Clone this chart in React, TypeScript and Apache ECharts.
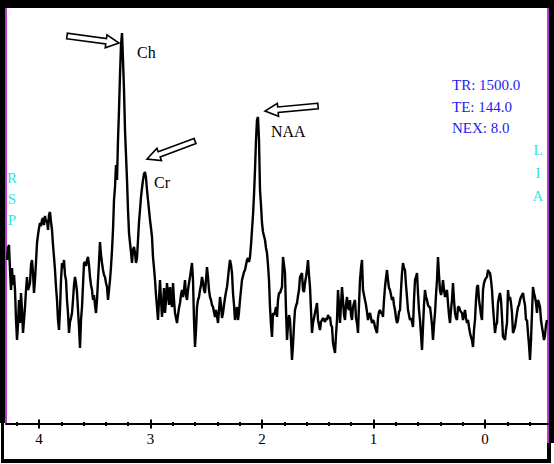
import React, { useEffect, useRef } from "react";
import * as echarts from "echarts";

// Chemical-shift range covered by the sampled spectrum (ppm), uniform sampling
const SHIFT_START_PPM = 4.287;
const SHIFT_END_PPM = -0.556;

// Spectrum intensity (a.u.), in order of decreasing ppm
const SEG_LIPID = [
  174, 186, 189, 164, 144, 166, 149, 159, 144, 114,
  94, 109, 134, 111, 141, 124, 101, 114, 127, 144,
  157, 144, 147, 151, 169, 174, 161, 141, 154, 172,
  191, 199, 206, 211, 208, 214, 216, 209, 218, 212,
  214, 204, 219, 222, 212, 204, 189, 177, 164, 147,
  134, 114, 104, 124, 154, 171, 166, 174, 159, 154,
  134, 121, 101, 112, 116, 121, 134, 149, 157, 151,
  142, 124, 107, 86, 114, 127, 149, 171, 172, 168,
  174, 177, 169, 157, 149, 144, 134, 139, 129, 121,
  134, 154, 172, 192, 179, 171, 164, 159, 157, 151,
  147, 134, 144, 154, 167, 184, 204, 234, 247, 269,
  254, 294, 324, 359, 389, 401, 374, 344, 304, 279,
  254, 224, 201, 191, 182, 171, 184, 187, 181, 171,
  176, 194, 212, 224, 237, 246, 254, 260, 262, 256,
  244, 234, 224, 214,
];
const SEG_NAA = [
  206, 197, 177, 166, 154, 139, 127, 114, 134, 154,
  134, 117, 129, 146, 121, 134, 151, 139, 129, 147,
  134, 127, 151, 134, 121, 116, 111, 119, 126, 131,
  139, 144, 137, 144, 154, 139, 134, 144, 151, 157,
  164, 171, 154, 114, 87, 104, 127, 134, 137, 144,
  149, 157, 152, 144, 141, 154, 167, 157, 144, 137,
  134, 129, 127, 122, 117, 124, 118, 111, 124, 137,
  129, 116, 121, 129, 136, 142, 147, 156, 166, 174,
  169, 161, 141, 129, 114, 122, 127, 114, 122, 134,
  144, 154, 158, 162, 164, 169, 174, 176, 172, 177,
  189, 204, 219, 239, 264, 294, 314, 317, 294, 244,
  229, 211, 202, 198, 194, 186, 181, 169, 154, 127,
  109, 97, 121, 119, 122, 127, 117, 134, 141, 141,
  144, 147, 177, 169, 161, 124, 94, 109, 119, 114,
  94, 74, 89, 109, 124, 128, 131, 138, 144, 157,
];
const SEG_MID = [
  159, 161, 144, 142, 151, 157, 164, 174, 159, 147,
  124, 101, 111, 116, 121, 126, 131, 114, 109, 104,
  112, 114, 116, 114, 112, 116, 114, 119, 116, 117,
  109, 107, 91, 86, 81, 99, 114, 144, 129, 111,
  129, 147, 134, 119, 114, 129, 137, 127, 124, 134,
  119, 114, 127, 131, 134, 116, 111, 101, 129, 154,
  166, 174, 144, 139, 134, 129, 122, 114, 119, 121,
  116, 111, 114, 112, 107, 104, 101, 116, 122, 124,
  121, 121, 117, 134, 147, 156, 164, 154, 146, 144,
  139, 134, 137, 129, 124, 116, 111, 114, 122, 124,
  144, 161, 171, 166, 164, 149, 137, 124, 119, 114,
  116, 112, 107, 134, 154, 157, 161, 141, 124, 114,
];
const SEG_UPFIELD = [
  99, 84, 107, 129, 144, 137, 134, 129, 127, 127,
  119, 109, 94, 109, 121, 139, 154, 177, 159, 144,
  139, 144, 154, 144, 137, 141, 144, 131, 119, 111,
  124, 134, 151, 134, 121, 116, 114, 127, 127, 124,
  122, 121, 114, 119, 124, 116, 111, 114, 107, 101,
  97, 94, 87, 104, 114, 134, 147, 149, 134, 127,
  119, 114, 144, 151, 154, 156, 157, 164, 162, 161,
  154, 144, 127, 114, 101, 109, 111, 131, 137, 141,
  134, 117, 97, 96, 94, 104, 111, 144, 134, 137,
  131, 121, 101, 104, 107, 114, 121, 127, 129, 134,
  137, 139, 141, 134, 129, 114, 114, 101, 89, 74,
  94, 121, 147, 141, 137, 131, 121, 134, 131, 127,
  114, 107, 101, 94, 99, 109, 114,
];

const MAJOR_TICKS = [4, 3, 2, 1, 0];
const MINOR_TICKS = [4.2, 3.8, 3.6, 3.4, 3.2, 2.8, 2.6, 2.4, 2.2, 1.8, 1.6, 1.4, 1.2, 0.8, 0.6, 0.4, 0.2, -0.2, -0.4];
const PEAK_NAMES = ["Ch", "Cr", "NAA"];
const SCAN_PARAMS = ["TR: 1500.0", "TE: 144.0", "NEX: 8.0"];
const LEFT_ORIENT = ["R", "S", "P"];
const RIGHT_ORIENT = ["L", "I", "A"];

const INTENSITY = [...SEG_LIPID, ...SEG_NAA, ...SEG_MID, ...SEG_UPFIELD];

const SERIF = '"Liberation Serif", "Times New Roman", serif';

function arrowPoints(tail: number[], tip: number[], w: number, hl: number, hw: number) {
  const dx = tip[0] - tail[0];
  const dy = tip[1] - tail[1];
  const len = Math.hypot(dx, dy);
  const ux = dx / len, uy = dy / len;
  const nx = -uy, ny = ux;
  const bx = tip[0] - ux * hl, by = tip[1] - uy * hl;
  return [
    [tail[0] + nx * w, tail[1] + ny * w],
    [bx + nx * w, by + ny * w],
    [bx + nx * hw, by + ny * hw],
    [tip[0], tip[1]],
    [bx - nx * hw, by - ny * hw],
    [bx - nx * w, by - ny * w],
    [tail[0] - nx * w, tail[1] - ny * w],
  ];
}

export default function App() {
  const ref = useRef<HTMLDivElement>(null);
  useEffect(() => {
    if (!ref.current) return;
    const chart = echarts.init(ref.current, null, { renderer: "svg" });
    const n = INTENSITY.length;
    const data = INTENSITY.map((v, i) => [
      SHIFT_START_PPM + ((SHIFT_END_PPM - SHIFT_START_PPM) * i) / (n - 1),
      v,
    ]);

    const xBase = {
      type: "value",
      min: -0.565,
      max: 4.296,
      inverse: true,
      position: "bottom",
      gridIndex: 0,
      splitLine: { show: false },
      axisLine: { show: false, onZero: false },
      axisLabel: { show: false },
      axisTick: { show: false },
    };

    const arrows = [
      { tail: [67, 36], tip: [119, 43] },
      { tail: [195, 141], tip: [147, 159] },
      { tail: [318, 106], tip: [265, 111] },
    ];
    const peakLabelPos = [
      [137, 52],
      [154, 182],
      [271, 131],
    ];

    const graphics: any[] = [
      // frame
      { type: "rect", shape: { x: 0, y: 0, width: 554, height: 8 }, style: { fill: "#000" } },
      { type: "rect", shape: { x: 0, y: 0, width: 5, height: 423 }, style: { fill: "#000" } },
      { type: "rect", shape: { x: 1, y: 423, width: 3, height: 40 }, style: { fill: "#000" } },
      { type: "rect", shape: { x: 1, y: 459, width: 550, height: 4 }, style: { fill: "#000" } },
      { type: "rect", shape: { x: 549, y: 0, width: 5, height: 443 }, style: { fill: "#000" } },
      { type: "rect", shape: { x: 547, y: 443, width: 4, height: 20 }, style: { fill: "#000" } },
      { type: "rect", shape: { x: 5, y: 8, width: 2, height: 415 }, style: { fill: "#b43cc8" } },
      { type: "rect", shape: { x: 547, y: 8, width: 2, height: 435 }, style: { fill: "#b43cc8" } },
    ];
    arrows.forEach((a) => {
      graphics.push({
        type: "polygon",
        z: 10,
        shape: { points: arrowPoints(a.tail, a.tip, 2.8, 13, 6.5) },
        style: { fill: "#fff", stroke: "#000", lineWidth: 1.6 },
      });
    });
    PEAK_NAMES.forEach((t, i) => {
      graphics.push({
        type: "text",
        z: 10,
        x: peakLabelPos[i][0],
        y: peakLabelPos[i][1],
        style: { text: t, fill: "#000", fontSize: 16, fontFamily: SERIF, verticalAlign: "middle", align: "left" },
      });
    });
    SCAN_PARAMS.forEach((t, i) => {
      graphics.push({
        type: "text",
        z: 10,
        x: 452,
        y: 85 + i * 21.5,
        style: { text: t, fill: "#2222ee", fontSize: 15, fontFamily: SERIF, verticalAlign: "middle", align: "left" },
      });
    });
    LEFT_ORIENT.forEach((t, i) => {
      graphics.push({
        type: "text",
        z: 10,
        x: 12,
        y: 178 + i * 21,
        style: { text: t, fill: "#33e3e3", fontSize: 15, fontFamily: SERIF, verticalAlign: "middle", align: "center" },
      });
    });
    RIGHT_ORIENT.forEach((t, i) => {
      graphics.push({
        type: "text",
        z: 10,
        x: 538,
        y: 150 + i * 23,
        style: { text: t, fill: "#33e3e3", fontSize: 15, fontFamily: SERIF, verticalAlign: "middle", align: "center" },
      });
    });

    chart.setOption({
      animation: false,
      backgroundColor: "#fff",
      grid: { left: 6, right: 6, top: 8, bottom: 40, containLabel: false },
      xAxis: [
        {
          ...xBase,
          axisLine: { show: true, onZero: false, lineStyle: { color: "#000", width: 2 } },
          axisTick: { show: true, inside: false, length: 4.5, customValues: MAJOR_TICKS, lineStyle: { color: "#000", width: 2 } },
          axisLabel: { show: true, customValues: MAJOR_TICKS, margin: 7, color: "#000", fontSize: 15, fontFamily: SERIF },
        },
        {
          ...xBase,
          axisTick: { show: true, inside: true, length: 4.5, customValues: MAJOR_TICKS, lineStyle: { color: "#000", width: 2 } },
        },
        {
          ...xBase,
          axisTick: { show: true, inside: false, length: 2, customValues: MINOR_TICKS, lineStyle: { color: "#000", width: 2 } },
        },
        {
          ...xBase,
          axisTick: { show: true, inside: true, length: 2, customValues: MINOR_TICKS, lineStyle: { color: "#000", width: 2 } },
        },
      ],
      yAxis: { type: "value", show: false, min: 10, max: 426 },
      graphic: graphics,
      series: [
        {
          type: "line",
          xAxisIndex: 0,
          data,
          symbol: "none",
          smooth: false,
          lineStyle: { color: "#000", width: 2.4 },
          z: 5,
        },
      ],
    });
    return () => chart.dispose();
  }, []);
  return <div ref={ref} style={{ position: "absolute", left: 0, top: 0, width: 554, height: 464 }} />;
}
